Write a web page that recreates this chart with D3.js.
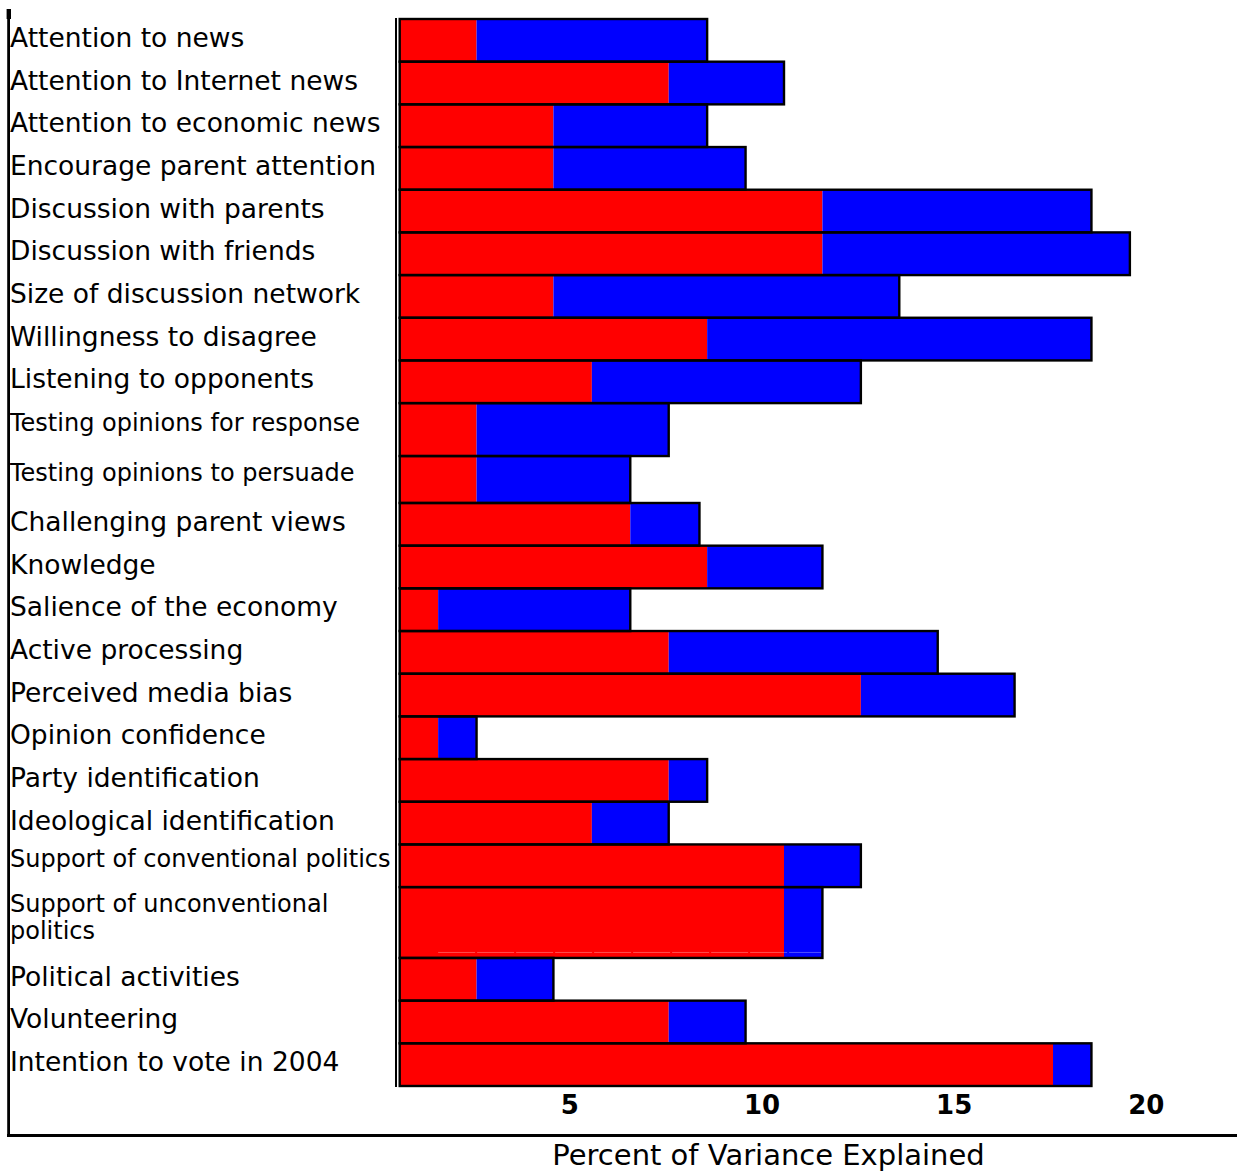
<!DOCTYPE html>
<html>
<head>
<meta charset="utf-8">
<script src="https://cdn.jsdelivr.net/npm/d3@7/dist/d3.min.js"></script>
<style>
  html, body { margin: 0; padding: 0; background: #ffffff; }
  svg { display: block; }
  text { font-family: "DejaVu Sans", Verdana, sans-serif; fill: #000; }
</style>
</head>
<body>
<svg id="chart" width="1237" height="1172"></svg>
<script>
// ---------------- DATA ----------------
const categories = [
  "Attention to news",
  "Attention to Internet news",
  "Attention to economic news",
  "Encourage parent attention",
  "Discussion with parents",
  "Discussion with friends",
  "Size of discussion network",
  "Willingness to disagree",
  "Listening to opponents",
  "Testing opinions for response",
  "Testing opinions to persuade",
  "Challenging parent views",
  "Knowledge",
  "Salience of the economy",
  "Active processing",
  "Perceived media bias",
  "Opinion confidence",
  "Party identification",
  "Ideological identification",
  "Support of conventional politics",
  "Support of unconventional politics",
  "Political activities",
  "Volunteering",
  "Intention to vote in 2004"
];
// red segment (percent of variance)
const redValues  = [2, 7, 4, 4, 11, 11, 4, 8, 5, 2, 2, 6, 8, 1, 7, 12, 1, 7, 5, 10, 10, 2, 7, 17];
// blue segment (additional percent of variance, stacked after red)
const blueValues = [6, 3, 4, 5, 7, 8, 9, 10, 7, 5, 4, 1.8, 3, 5, 7, 4, 1, 1, 2, 2, 1, 2, 2, 1];
const tickValues = [5, 10, 15, 20];
const axisTitle = "Percent of Variance Explained";

// ---------------- LAYOUT ----------------
const W = 1237, H = 1172;
const plotLeft = 399.7, unitPx = 38.43;
const plotTop = 19, plotBottom = 1086;
const rowWeight = {                      // relative row heights
  "Testing opinions for response": 1.24,
  "Testing opinions to persuade": 1.1,
  "Support of unconventional politics": 1.66
};
const smallLabels = new Set([
  "Testing opinions for response",
  "Testing opinions to persuade",
  "Support of conventional politics",
  "Support of unconventional politics"
]);
const wrapLabels = { "Support of unconventional politics": ["Support of unconventional", "politics"] };

const svg = d3.select("#chart");

const x = d3.scaleLinear().domain([0, 20]).range([plotLeft, plotLeft + 20 * unitPx]);

// custom variable-height band scale
const weights = categories.map(c => rowWeight[c] || 1);
const totalW = d3.sum(weights);
const yUnit = d3.scaleLinear().domain([0, totalW]).range([plotTop, plotBottom]);
const cum = d3.cumsum([0].concat(weights));
const yTop = d3.scaleOrdinal(categories, categories.map((c, i) => yUnit(cum[i])));
const yBottom = d3.scaleOrdinal(categories, categories.map((c, i) => yUnit(cum[i + 1])));

const rows = categories.map((c, i) => ({
  cat: c, red: redValues[i], blue: blueValues[i], total: redValues[i] + blueValues[i]
}));

// frame lines
svg.append("line").attr("x1", 8.6).attr("x2", 8.6).attr("y1", 10).attr("y2", 1137)
  .attr("stroke", "#000").attr("stroke-width", 2.8);
svg.append("rect").attr("x", 6.6).attr("y", 9).attr("width", 4.4).attr("height", 10).attr("fill", "#000");
svg.append("line").attr("x1", 7).attr("x2", W).attr("y1", 1135.5).attr("y2", 1135.5)
  .attr("stroke", "#000").attr("stroke-width", 3);

// outer baseline line
svg.append("line").attr("x1", 396).attr("x2", 396).attr("y1", plotTop - 1).attr("y2", plotBottom + 1)
  .attr("stroke", "#000").attr("stroke-width", 2);

const g = svg.append("g");

// red segments
g.selectAll("rect.red").data(rows).join("rect").attr("class", "red")
  .attr("x", x(0)).attr("width", d => x(d.red) - x(0))
  .attr("y", d => yTop(d.cat)).attr("height", d => yBottom(d.cat) - yTop(d.cat))
  .attr("fill", "#ff0000");

// blue segments
g.selectAll("rect.blue").data(rows).join("rect").attr("class", "blue")
  .attr("x", d => x(d.red)).attr("width", d => x(d.total) - x(d.red))
  .attr("y", d => yTop(d.cat)).attr("height", d => yBottom(d.cat) - yTop(d.cat))
  .attr("fill", "#0000ff");

// faint artifact line inside the tall row
const tall = rows.filter(d => d.cat === "Support of unconventional politics");
g.selectAll("line.art").data(tall).join("line").attr("class", "art")
  .attr("x1", x(1)).attr("x2", d => x(d.total) - 1)
  .attr("y1", d => yBottom(d.cat) - 5.5).attr("y2", d => yBottom(d.cat) - 5.5)
  .attr("stroke", "#ffffff").attr("stroke-opacity", 0.3).attr("stroke-width", 1)
  .attr("stroke-dasharray", "37,2");

// outlines
g.selectAll("rect.outline").data(rows).join("rect").attr("class", "outline")
  .attr("x", x(0)).attr("width", d => x(d.total) - x(0))
  .attr("y", d => yTop(d.cat)).attr("height", d => yBottom(d.cat) - yTop(d.cat))
  .attr("fill", "none").attr("stroke", "#000").attr("stroke-width", 2.4);

// category labels
svg.append("g").selectAll("text").data(rows).join("text")
  .attr("x", 10)
  .style("font-size", d => smallLabels.has(d.cat) ? "24px" : "26.5px")
  .each(function (d) {
    const mid = (yTop(d.cat) + yBottom(d.cat)) / 2;
    const sel = d3.select(this);
    if (wrapLabels[d.cat]) {
      const lines = wrapLabels[d.cat];
      sel.attr("y", mid - 11);
      lines.forEach((ln, i) => {
        sel.append("tspan").attr("x", 10).attr("dy", i === 0 ? 0 : 27.5).text(ln);
      });
    } else {
      sel.attr("y", mid + (smallLabels.has(d.cat) ? 1.5 : 6.5)).text(d.cat);
    }
  });

// x axis tick labels
svg.append("g").selectAll("text").data(tickValues).join("text")
  .attr("x", d => x(d) - 22).attr("y", 1114)
  .attr("text-anchor", "middle")
  .style("font-size", "26px").style("font-weight", "bold")
  .text(d => d);

// axis title
svg.append("text").attr("x", 768.5).attr("y", 1165)
  .attr("text-anchor", "middle").style("font-size", "29px")
  .text(axisTitle);
</script>
</body>
</html>
